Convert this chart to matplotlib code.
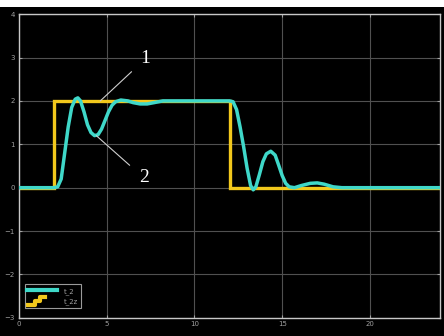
import matplotlib
matplotlib.use("Agg")
import matplotlib.pyplot as plt
from matplotlib.lines import Line2D
from matplotlib.legend_handler import HandlerBase
from matplotlib.patches import Rectangle

# Data
step_t = [0, 2, 2, 12, 12, 24]
step_v = [0, 0, 2, 2, 0, 0]

resp_t = [0, 2.0, 2.2, 2.4, 2.6, 2.8, 3.0, 3.2, 3.35, 3.5, 3.7, 3.9, 4.1, 4.3, 4.5,
          4.7, 4.9, 5.1, 5.3, 5.5, 5.8, 6.2, 6.5, 6.9, 7.3, 7.7, 8.2, 12.0,
          12.2, 12.4, 12.6, 12.8, 13.0, 13.2, 13.35, 13.5, 13.7, 13.9, 14.1, 14.35,
          14.6, 14.8, 15.0, 15.2, 15.4, 15.7, 16.1, 16.6, 17.0, 17.4, 17.9, 18.4, 24]
resp_v = [0, 0, 0.02, 0.2, 0.8, 1.4, 1.85, 2.04, 2.07, 2.0, 1.75, 1.45, 1.27, 1.2, 1.22,
          1.35, 1.55, 1.75, 1.9, 1.98, 2.02, 2.0, 1.96, 1.93, 1.93, 1.96, 2.0, 2.0,
          1.98, 1.8, 1.4, 0.95, 0.45, 0.05, -0.05, 0.02, 0.3, 0.6, 0.78, 0.84,
          0.75, 0.52, 0.28, 0.1, 0.02, 0.0, 0.05, 0.1, 0.11, 0.08, 0.02, 0, 0]

x_ticks = [0, 5, 10, 15, 20]
y_ticks = [-3, -2, -1, 0, 1, 2, 3, 4]
series_labels = ["t_2", "t_2z"]

YELLOW = "#f2c81c"
CYAN = "#3fd8c9"

fig = plt.figure(figsize=(4.44, 3.36), dpi=100, facecolor="black")
fig.patches.append(Rectangle((0, 0.979), 1, 0.021, transform=fig.transFigure,
                             facecolor="white", edgecolor="none", zorder=0))
ax = fig.add_axes([0.043, 0.054, 0.948, 0.904])
ax.set_facecolor("black")

l_resp, = ax.plot(resp_t, resp_v, color=CYAN, lw=2.5, zorder=3, solid_joinstyle="round")
l_step, = ax.plot(step_t, step_v, color=YELLOW, lw=2.4, zorder=2, solid_joinstyle="miter")

ax.set_xlim(0, 24)
ax.set_ylim(-3, 4)
ax.set_xticks(x_ticks)
ax.set_yticks(y_ticks)
ax.grid(True, color="#505050", lw=0.8)
for s in ax.spines.values():
    s.set_color("#c8c8c8")
    s.set_linewidth(1.0)
ax.tick_params(colors="#a0a0a0", labelsize=5, length=2, direction="in",
               top=True, right=True, pad=2)
ax.tick_params(axis="y", pad=3)

# annotations
ax.annotate("1", xy=(4.63, 2.0), xytext=(7.2, 2.97), color="white", fontsize=14,
            family="Liberation Serif", ha="center", va="center",
            arrowprops=dict(arrowstyle="-", color="#cfcfcf", lw=0.8, shrinkA=6, shrinkB=0))
ax.annotate("2", xy=(4.4, 1.2), xytext=(7.1, 0.23), color="white", fontsize=14,
            family="Liberation Serif", ha="center", va="center",
            arrowprops=dict(arrowstyle="-", color="#cfcfcf", lw=0.8, shrinkA=6, shrinkB=0))


class StairHandler(HandlerBase):
    def create_artists(self, legend, orig_handle, xdescent, ydescent, width, height,
                       fontsize, trans):
        w, h = width, height
        xs = [0.02 * w, 0.25 * w, 0.25 * w, 0.42 * w, 0.42 * w, 0.6 * w]
        ys = [0.05 * h, 0.05 * h, 0.5 * h, 0.5 * h, 0.95 * h, 0.95 * h]
        ln = Line2D([x - xdescent for x in xs], [y - ydescent for y in ys],
                    color=YELLOW, lw=3.0, transform=trans)
        return [ln]


proxy = Line2D([], [], color=YELLOW)
leg = ax.legend([l_resp, proxy], series_labels, loc="lower left",
                handler_map={proxy: StairHandler()},
                fontsize=5, labelcolor="#a0a0a0", facecolor="black",
                edgecolor="#9a9a9a", framealpha=1, fancybox=False,
                handlelength=4.2, handleheight=1.5, borderpad=0.4,
                handletextpad=1.0, labelspacing=0.3,
                bbox_to_anchor=(0.005, 0.02))
leg.get_frame().set_linewidth(0.8)
for ln in leg.get_lines():
    ln.set_linewidth(3)

fig.savefig("out.png", dpi=100, facecolor=fig.get_facecolor())
